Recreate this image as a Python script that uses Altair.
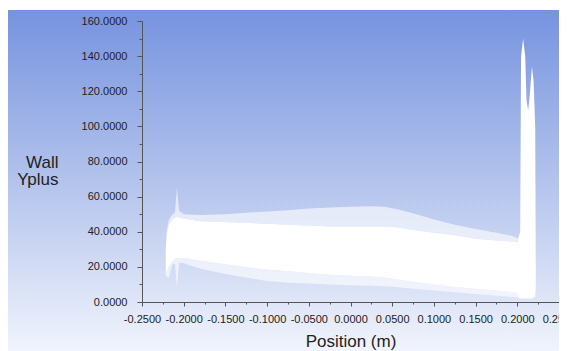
import altair as alt
import pandas as pd

# ---- data (Wall Yplus vs Position) ----
body_x = [-0.2215, -0.2205, -0.2180, -0.2140, -0.2105, -0.2081, -0.2055, -0.2000,
          -0.1800, -0.1500, -0.1200, -0.1000, -0.0750, -0.0500, -0.0250, 0.0000,
          0.0250, 0.0400, 0.0550, 0.0750, 0.1000, 0.1250, 0.1500, 0.1750, 0.1950, 0.2015]
upper_outer = [30, 40, 46.5, 49.5, 51, 65, 52, 50,
               49.5, 50, 51, 51.5, 52.3, 53.2, 53.8, 54.2,
               54.5, 54.2, 53, 50.5, 47, 44, 41.5, 39.5, 37.5, 36]
solid_top = [30, 38, 44, 47, 48, 48.5, 48, 47.5,
             46, 45.5, 45, 44.5, 44, 43.5, 43, 43,
             43, 43, 42.5, 41, 39.5, 38, 36, 35, 34.5, 34]
solid_bottom = [16, 17, 20, 23, 24.5, 25, 25, 25,
                23.5, 21.5, 19.5, 18.5, 17.5, 16.5, 15.5, 15,
                14.5, 14, 13, 11.5, 10, 8.5, 7.5, 6.5, 5.5, 5]
lower_outer = [14, 15, 13.5, 21, 22, 8, 22.5, 22,
               19, 16, 13.5, 12, 11, 10.5, 10, 9.5,
               9.2, 9, 8.5, 7.5, 6.5, 5.5, 4.5, 3.5, 2.8, 2.5]

col_x = [0.2010, 0.2035, 0.2045, 0.2070, 0.2095, 0.2110, 0.2130, 0.2150, 0.2175, 0.2195, 0.2215, 0.2222]
col_top = [36, 40, 140, 150, 140, 115, 109, 118, 134, 126, 100, 10]
col_bottom = [2.5, 2, 2, 2, 2, 2, 2, 2, 2, 2.5, 3, 10]

x_ticks = [-0.25, -0.225, -0.2, -0.175, -0.15, -0.125, -0.1, -0.075, -0.05, -0.025, 0.0,
           0.025, 0.05, 0.075, 0.1, 0.125, 0.15, 0.175, 0.2, 0.225, 0.25]
y_ticks = [0, 10, 20, 30, 40, 50, 60, 70, 80, 90, 100, 110, 120, 130, 140, 150, 160]

body = pd.DataFrame({"x": body_x, "uo": upper_outer, "st": solid_top,
                     "sb": solid_bottom, "lo": lower_outer})
col = pd.DataFrame({"x": col_x, "top": col_top, "bot": col_bottom})

FONT = "Liberation Sans"
W, H = 417, 281

xs = alt.Scale(domain=[-0.25, 0.25], nice=False, zero=False)
ys = alt.Scale(domain=[0, 160], nice=False, zero=False)

x_major = "abs(datum.value*20 - round(datum.value*20)) < 0.001"
y_major = "datum.value % 20 === 0"

common = dict(labelFont=FONT, labelFontSize=11, labelColor="#222",
              labelOverlap=False, labelFlush=False,
              domainColor="#555", tickColor="#555", grid=False, zindex=1,
              titleFont=FONT, titleFontSize=17, titleFontWeight="normal", titleColor="#222")

x_axis = alt.Axis(values=x_ticks, format=".4f",
                  labelExpr=f"{x_major} ? replace(datum.label, '\u2212', '-') : ''",
                  tickSize={"condition": {"test": x_major, "value": 4}, "value": 2},
                  labelPadding=7, labelBaseline="top",
                  title="Position (m)", titleBaseline="alphabetic", titleY=44, **common)
y_axis = alt.Axis(values=y_ticks, format=".4f",
                  labelExpr=f"{y_major} ? datum.label : ''",
                  tickSize={"condition": {"test": y_major, "value": 5}, "value": 3},
                  labelPadding=10,
                  title=["Wall", "Yplus"], titleAngle=0,
                  titleAlign="right", titleBaseline="alphabetic", titleLineHeight=17,
                  titleX=-84, titleY=146, **common)

grad = alt.LinearGradient(gradient="linear",
                          stops=[alt.GradientStop(color="#7693DF", offset=0),
                                 alt.GradientStop(color="#B3C3EC", offset=0.5),
                                 alt.GradientStop(color="#F1F4FC", offset=1)],
                          x1=0, x2=0, y1=0, y2=1)

bg = alt.Chart(pd.DataFrame({"a": [0]})).mark_rect(fill=grad, strokeWidth=0).encode(
    x=alt.value(-134), x2=alt.value(W + 10), y=alt.value(-11), y2=alt.value(H + 50))

X = alt.X("x:Q", scale=xs, axis=x_axis)
upper_band = alt.Chart(body).mark_area(color="white", opacity=0.6).encode(
    x=X, y=alt.Y("st:Q", scale=ys, axis=y_axis), y2="uo:Q")
lower_band = alt.Chart(body).mark_area(color="white", opacity=0.6).encode(
    x=X, y=alt.Y("lo:Q", scale=ys, axis=y_axis), y2="sb:Q")
solid = alt.Chart(body).mark_area(color="white", opacity=1).encode(
    x=X, y=alt.Y("sb:Q", scale=ys, axis=y_axis), y2="st:Q")
column = alt.Chart(col).mark_area(color="white", opacity=1).encode(
    x=X, y=alt.Y("bot:Q", scale=ys, axis=y_axis), y2="top:Q")

chart = alt.layer(bg, upper_band, lower_band, solid, column).properties(
    width=W, height=H, autosize="none",
    padding={"left": 134, "top": 13, "right": 0, "bottom": 49},
    background="white"
).configure_view(stroke=None)

chart.save("out.html", embed_options={"renderer": "svg", "actions": False})
